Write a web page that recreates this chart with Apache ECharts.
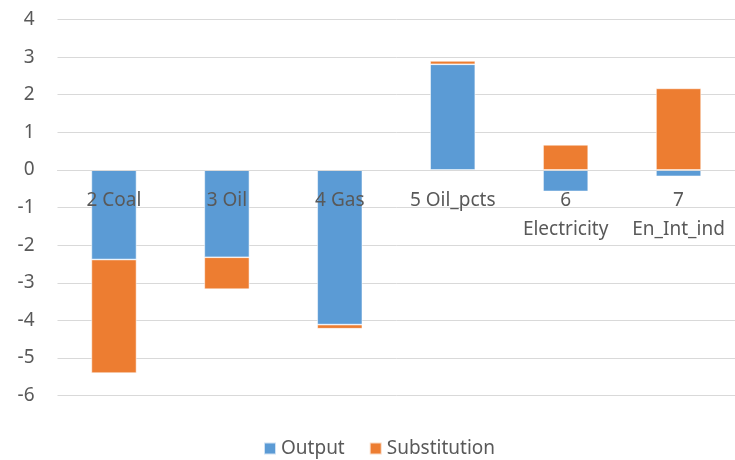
<!DOCTYPE html>
<html>
<head>
<meta charset="utf-8">
<script src="https://cdn.jsdelivr.net/npm/echarts@6/dist/echarts.min.js"></script>
<style>
  html, body { margin: 0; padding: 0; background: #ffffff; }
  #chart { width: 735px; height: 460px; }
</style>
</head>
<body>
<div id="chart"></div>
<script>
// Sector categories and the two stacked components of each change
const categories = ['2 Coal', '3 Oil', '4 Gas', '5 Oil_pcts', '6\nElectricity', '7\nEn_Int_ind'];
const outputValues = [-2.38, -2.32, -4.11, 2.81, -0.57, -0.17];
const substitutionValues = [-3.02, -0.85, -0.11, 0.09, 0.67, 2.17];
const yTicks = { min: -6, max: 4, step: 1 };

const textColor = '#595959';
const gridColor = '#d9d9d9';
const fontFamily = '"Noto Sans", "Open Sans", sans-serif';
const fontSize = 19;

const width = 735, height = 460;
const gridTop = 19.5, gridBottom = 64.3;
const plotHeight = height - gridTop - gridBottom;
// Lift the category axis from the plot bottom up to the value-axis zero line
const zeroOffset = -plotHeight * (0 - yTicks.min) / (yTicks.max - yTicks.min);

const chart = echarts.init(document.getElementById('chart'), null, { renderer: 'canvas' });

function barSeries(name, values, color) {
  return {
    name: name,
    type: 'bar',
    stack: 'total',
    barWidth: '40%',
    z: 2,
    data: values,
    itemStyle: { color: color, borderColor: 'rgba(255,255,255,0.7)', borderWidth: 0.75 }
  };
}

chart.setOption({
  animation: false,
  backgroundColor: '#ffffff',
  textStyle: { fontFamily: fontFamily },
  grid: { left: 57.5, right: 0, top: gridTop, bottom: gridBottom, containLabel: false, outerBoundsMode: 'none' },
  legend: {
    bottom: -3,
    left: 258,
    itemWidth: 12,
    itemHeight: 12,
    itemGap: 24,
    icon: 'rect',
    textStyle: { color: textColor, fontSize: fontSize, fontFamily: fontFamily },
    data: ['Output', 'Substitution']
  },
  xAxis: {
    type: 'category',
    position: 'bottom',
    offset: zeroOffset,
    z: 5,
    data: categories,
    axisLine: { onZero: false, lineStyle: { color: gridColor, width: 1 } },
    axisTick: { show: false },
    axisLabel: {
      color: textColor,
      fontSize: fontSize,
      fontFamily: fontFamily,
      margin: 16,
      lineHeight: 29,
      interval: 0
    }
  },
  yAxis: {
    type: 'value',
    min: yTicks.min,
    max: yTicks.max,
    interval: yTicks.step,
    axisLine: { show: false },
    axisTick: { show: false },
    splitLine: { lineStyle: { color: gridColor, width: 1 } },
    axisLabel: { color: textColor, fontSize: fontSize, fontFamily: fontFamily, margin: 23 }
  },
  series: [
    barSeries('Output', outputValues, '#5b9bd5'),
    barSeries('Substitution', substitutionValues, '#ed7d31')
  ]
});
</script>
</body>
</html>
